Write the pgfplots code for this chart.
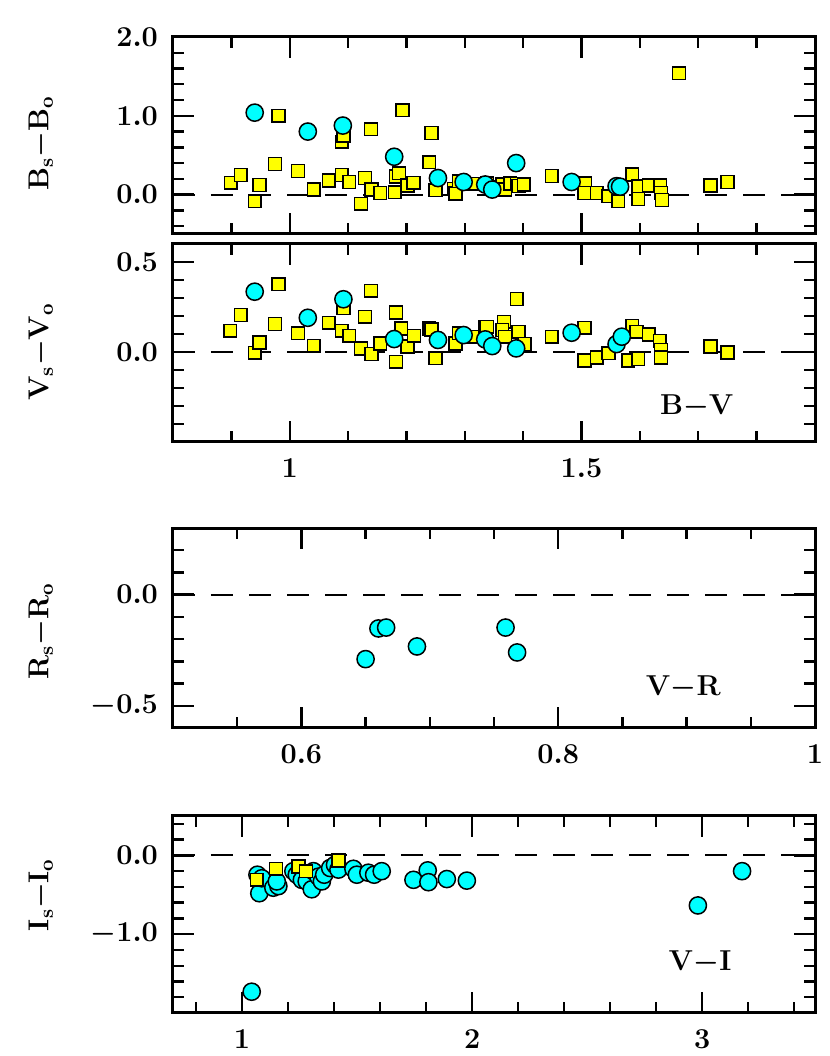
\documentclass[border=0pt]{standalone}
\usepackage{pgfplots}
\pgfplotsset{compat=1.18}
\definecolor{sqyellow}{RGB}{255,255,0}
\definecolor{cicyan}{RGB}{0,255,255}
\pgfplotsset{
  panel/.style={
    scale only axis, width=321pt, anchor=south west,
    axis line style={line width=1.5pt},
    tick style={line width=1.2pt, black},
    major tick length=10.5pt, minor tick length=5.3pt,
    tick align=inside, xtick pos=both, ytick pos=both,
    ticklabel style={font=\fontsize{14}{16}\selectfont\boldmath},
    xticklabel style={yshift=-5pt},
    yticklabel style={xshift=-4pt, /pgf/number format/fixed, /pgf/number format/fixed zerofill, /pgf/number format/precision=1},
    clip=false,
  },
  sq/.style={only marks, mark=square*, mark size=3.2pt, mark options={fill=sqyellow, draw=black, line width=0.75pt}},
  ci/.style={only marks, mark=*, mark size=4.3pt, mark options={fill=cicyan, draw=black, line width=0.75pt}},
  zero/.style={black, line width=1pt, dash pattern=on 11pt off 8pt},
}
\newcommand{\ylab}[2]{\node[rotate=90, font=\fontsize{14}{16}\selectfont\boldmath] at (axis description cs:-0.206,#1) {#2};}
\newcommand{\inlab}[3]{\node[font=\fontsize{15}{18}\selectfont\boldmath] at (axis description cs:#1,#2) {$\mathbf{#3}$};}
\begin{document}
\begin{tikzpicture}
% B_s - B_o
\begin{axis}[panel, at={(86.5pt,411pt)}, height=98.5pt,
  xmin=0.8, xmax=1.9, ymin=-0.5, ymax=2.0,
  xtick={1,1.5}, xticklabels={},
  minor xtick={0.9,1.1,1.2,1.3,1.4,1.6,1.7,1.8},
  ytick={0,1,2}, minor ytick={-0.4,-0.2,0.2,0.4,0.6,0.8,1.2,1.4,1.6,1.8}]
\addplot[zero] coordinates {(0.8,0) (1.9,0)};
\addplot[sq] coordinates {
(0.899,0.15) (0.916,0.25) (0.940,-0.085) (0.948,0.12) (0.975,0.39) (0.981,1.00)
(1.014,0.30) (1.041,0.064) (1.067,0.18) (1.089,0.25) (1.089,0.67) (1.092,0.75)
(1.102,0.16) (1.122,-0.115) (1.129,0.21) (1.139,0.83) (1.140,0.064) (1.155,0.02)
(1.180,0.03) (1.182,0.23) (1.187,0.27) (1.193,1.07) (1.202,0.115) (1.212,0.15)
(1.239,0.41) (1.243,0.78) (1.250,0.055) (1.281,0.07) (1.284,0.013) (1.290,0.17)
(1.315,0.137) (1.338,0.14) (1.355,0.10) (1.364,0.128) (1.369,0.064) (1.378,0.14)
(1.389,0.137) (1.392,0.11) (1.401,0.128) (1.449,0.235) (1.506,0.14) (1.505,0.02)
(1.526,0.02) (1.546,-0.02) (1.563,-0.085) (1.587,0.256) (1.597,0.107) (1.597,-0.055)
(1.615,0.115) (1.635,0.115) (1.636,0.02) (1.638,-0.07) (1.667,1.54) (1.721,0.115)
(1.750,0.16)
};
\addplot[ci] coordinates {
(0.940,1.04) (1.031,0.80) (1.091,0.876) (1.179,0.48) (1.254,0.21) (1.298,0.16)
(1.335,0.128) (1.347,0.064) (1.388,0.40) (1.483,0.16) (1.560,0.107) (1.566,0.10)
};
\ylab{0.46}{$\mathbf{B_s{-}B_o}$}
\end{axis}

% V_s - V_o
\begin{axis}[panel, at={(86.5pt,307pt)}, height=99pt,
  xmin=0.8, xmax=1.9, ymin=-0.5, ymax=0.6,
  xtick={1,1.5},
  minor xtick={0.9,1.1,1.2,1.3,1.4,1.6,1.7,1.8},
  ytick={0,0.5}, minor ytick={-0.4,-0.3,-0.2,-0.1,0.1,0.2,0.3,0.4}]
\addplot[zero] coordinates {(0.8,0) (1.9,0)};
\addplot[sq] coordinates {
(0.898,0.118) (0.916,0.206) (0.940,-0.004) (0.948,0.052) (0.975,0.156) (0.981,0.376)
(1.014,0.104) (1.041,0.035) (1.067,0.163) (1.089,0.118) (1.092,0.243) (1.102,0.09)
(1.122,0.02) (1.129,0.196) (1.139,0.34) (1.140,-0.011) (1.155,0.048) (1.182,-0.054)
(1.182,0.22) (1.191,0.13) (1.202,0.03) (1.213,0.09) (1.239,0.13) (1.243,0.125)
(1.250,-0.035) (1.284,0.048) (1.290,0.104) (1.315,0.085) (1.335,0.14) (1.338,0.14)
(1.367,0.168) (1.364,0.122) (1.369,0.085) (1.392,0.113) (1.402,0.044) (1.389,0.294)
(1.449,0.085) (1.505,0.135) (1.505,-0.048) (1.526,-0.03) (1.546,-0.007) (1.587,0.144)
(1.594,0.113) (1.580,-0.048) (1.597,-0.039) (1.615,0.098) (1.634,0.063) (1.636,0.011)
(1.636,-0.03) (1.721,0.03) (1.750,-0.002)
};
\addplot[ci] coordinates {
(0.940,0.335) (1.031,0.19) (1.092,0.293) (1.179,0.072) (1.254,0.067) (1.298,0.094)
(1.335,0.07) (1.347,0.033) (1.388,0.02) (1.483,0.107) (1.560,0.044) (1.569,0.085)
};
\ylab{0.455}{$\mathbf{V_s{-}V_o}$}
\inlab{0.816}{0.177}{B{-}V}
\end{axis}

% R_s - R_o
\begin{axis}[panel, at={(86.5pt,164pt)}, height=100pt,
  xmin=0.5, xmax=1.0, ymin=-0.6, ymax=0.3,
  xtick={0.6,0.8,1},
  minor xtick={0.55,0.65,0.7,0.75,0.85,0.9,0.95},
  ytick={-0.5,0}, minor ytick={-0.4,-0.3,-0.2,-0.1,0.1,0.2}]
\addplot[zero] coordinates {(0.5,0) (1.0,0)};
\addplot[ci] coordinates {
(0.650,-0.29) (0.660,-0.152) (0.666,-0.148) (0.690,-0.233) (0.759,-0.148) (0.768,-0.26)
};
\ylab{0.485}{$\mathbf{R_s{-}R_o}$}
\inlab{0.795}{0.2}{V{-}R}
\end{axis}

% I_s - I_o
\begin{axis}[panel, at={(86.5pt,21.5pt)}, height=98.5pt,
  xmin=0.7, xmax=3.49, ymin=-2.0, ymax=0.5,
  xtick={1,2,3},
  minor xtick={0.8,1.2,1.4,1.6,1.8,2.2,2.4,2.6,2.8,3.2,3.4},
  ytick={-1,0}, minor ytick={-1.8,-1.6,-1.4,-1.2,-0.8,-0.6,-0.4,-0.2,0.2,0.4}]
\addplot[zero] coordinates {(0.7,0) (3.49,0)};
\addplot[ci] coordinates {
(1.042,-1.73) (1.067,-0.245) (1.075,-0.48) (1.086,-0.29) (1.136,-0.41) (1.158,-0.39)
(1.151,-0.33) (1.223,-0.2) (1.238,-0.245) (1.260,-0.31) (1.281,-0.33) (1.303,-0.43)
(1.310,-0.2) (1.332,-0.27) (1.347,-0.33) (1.357,-0.245) (1.383,-0.16) (1.404,-0.12)
(1.419,-0.18) (1.484,-0.17) (1.499,-0.245) (1.549,-0.22) (1.574,-0.245) (1.607,-0.2)
(1.745,-0.31) (1.807,-0.19) (1.810,-0.34) (1.890,-0.3) (1.977,-0.32)
(2.981,-0.635) (3.173,-0.2)
};
\addplot[sq] coordinates {
(1.064,-0.31) (1.148,-0.17) (1.245,-0.14) (1.278,-0.2) (1.419,-0.063)
};
\ylab{0.60}{$\mathbf{I_s{-}I_o}$}
\inlab{0.821}{0.254}{V{-}I}
\end{axis}
\pgfresetboundingbox
\useasboundingbox (0,0) rectangle (415pt,528pt);
\end{tikzpicture}
\end{document}
